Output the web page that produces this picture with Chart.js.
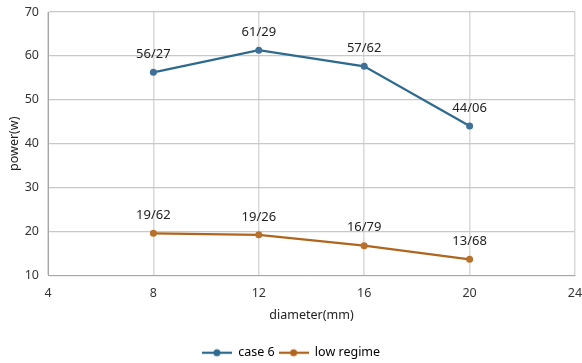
<!DOCTYPE html>
<html>
<head>
<meta charset="utf-8">
<script src="https://cdn.jsdelivr.net/npm/chart.js@4"></script>
<style>
  html, body { margin: 0; padding: 0; background: #fff; }
</style>
</head>
<body>
<canvas id="myChart" width="582" height="363"></canvas>
<script>
let diameters = [8, 12, 16, 20];
let case6 = [56.27, 61.29, 57.62, 44.06];
let lowRegime = [19.62, 19.26, 16.79, 13.68];
let seriesNames = ['case 6', 'low regime'];
let colors = ['#2e6a8e', '#b0651e'];
let xTicks = [4, 8, 12, 16, 20, 24];

function toPoints(values) {
	return diameters.map((d, i) => ({ x: d, y: values[i] }));
}

// legend marker: short line with a dot, like the original
function legendIcon(color) {
	let c = document.createElement('canvas');
	c.width = 30; c.height = 10;
	let g = c.getContext('2d');
	g.strokeStyle = color;
	g.lineWidth = 2.25;
	g.beginPath(); g.moveTo(0, 5); g.lineTo(30, 5); g.stroke();
	g.fillStyle = color;
	g.beginPath(); g.arc(15, 5, 3.5, 0, Math.PI * 2); g.fill();
	return c;
}

// value labels above each point, with "/" as the decimal sign
let valueLabels = {
	id: 'valueLabels',
	afterDatasetsDraw(chart) {
		let ctx = chart.ctx;
		ctx.save();
		ctx.font = '13px "Noto Sans", sans-serif';
		ctx.fillStyle = '#222';
		ctx.textAlign = 'center';
		ctx.textBaseline = 'middle';
		chart.data.datasets.forEach((ds, i) => {
			chart.getDatasetMeta(i).data.forEach((pt, j) => {
				let txt = ds.data[j].y.toFixed(2).replace('.', '/');
				ctx.fillText(txt, pt.x, pt.y - 18);
			});
		});
		ctx.restore();
	}
};

let tickFont = { family: '"Noto Sans", sans-serif', size: 12.5 };

let chart = new Chart(document.getElementById('myChart').getContext('2d'), {
	type: 'line',
	data: {
		datasets: [
			{
				label: seriesNames[0],
				data: toPoints(case6),
				borderColor: colors[0],
				backgroundColor: colors[0],
				borderWidth: 2.25,
				pointRadius: 3.5,
				pointHoverRadius: 3.5,
				pointBackgroundColor: '#3f7198',
				pointBorderWidth: 0
			},
			{
				label: seriesNames[1],
				data: toPoints(lowRegime),
				borderColor: colors[1],
				backgroundColor: colors[1],
				borderWidth: 2.25,
				pointRadius: 3.5,
				pointHoverRadius: 3.5,
				pointBackgroundColor: '#b8702a',
				pointBorderWidth: 0
			}
		]
	},
	options: {
		responsive: false,
		animation: false,
		layout: { padding: { left: 7, right: 7, top: 12, bottom: -6 } },
		scales: {
			x: {
				type: 'linear',
				min: 4, max: 24,
				afterBuildTicks: s => { s.ticks = xTicks.map(v => ({ value: v })); },
				afterFit: s => { s.height = 67; s.paddingRight = 0; s.paddingLeft = 0; },
				grid: { color: '#d9d9d9', lineWidth: 1.5, drawTicks: false },
				border: { color: '#a6a6a6', width: 1 },
				ticks: { font: tickFont, color: '#333', padding: 10 },
				title: {
					display: true, text: 'diameter(mm)',
					font: { family: '"Noto Sans", sans-serif', size: 12.5 },
					color: '#222',
					padding: { top: 0, bottom: 20 }
				}
			},
			y: {
				min: 10, max: 70,
				afterFit: s => { s.width = 41; s.paddingTop = 0; s.paddingBottom = 0; },
				grid: { color: '#c8c8c8', lineWidth: 1.2, drawTicks: false },
				border: { color: '#a6a6a6', width: 1 },
				ticks: { stepSize: 10, font: tickFont, color: '#333', padding: 9 },
				title: {
					display: true, text: 'power(w)',
					font: { family: '"Noto Sans", sans-serif', size: 12.5 },
					color: '#222',
					padding: 0
				}
			}
		},
		plugins: {
			legend: {
				position: 'bottom',
				labels: {
					usePointStyle: true,
					pointStyleWidth: 30,
					boxHeight: 10,
					padding: 4,
					font: { family: '"Noto Sans", sans-serif', size: 12.5 },
					color: '#222',
					generateLabels: ch => ch.data.datasets.map((ds, i) => ({
						text: ds.label,
						pointStyle: legendIcon(colors[i]),
						fillStyle: colors[i],
						strokeStyle: colors[i],
						lineWidth: 0,
						datasetIndex: i
					}))
				}
			},
			tooltip: { enabled: false }
		}
	},
	plugins: [valueLabels]
});
</script>
</body>
</html>
